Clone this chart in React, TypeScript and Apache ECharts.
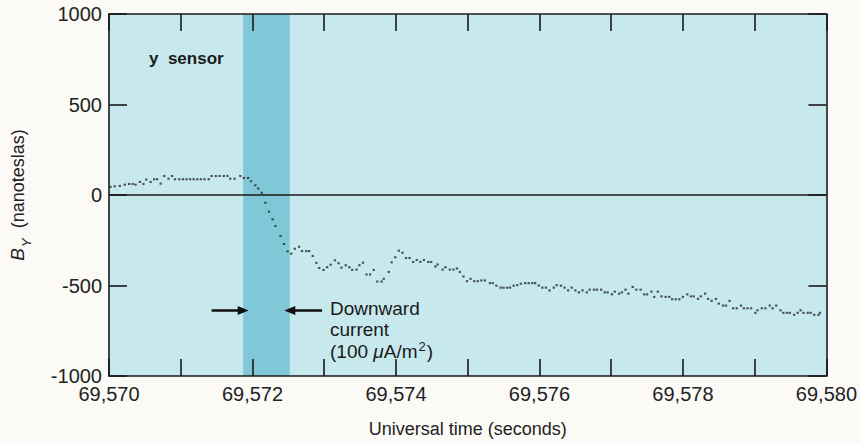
import React, { useEffect, useRef } from "react";
import * as echarts from "echarts";

const BASE_TIME = 69570;
const xTicks = [69570, 69572, 69574, 69576, 69578, 69580];
const yTicks = [-1000, -500, 0, 500, 1000];

// seconds after 69,570 UT
const timeOffsets = [
  0.02, 0.08, 0.15, 0.22, 0.28, 0.33, 0.37, 0.43, 0.48, 0.52, 0.58, 0.63, 0.67, 0.72, 0.77, 0.83, 0.88, 0.92, 0.98,
  1.03, 1.08, 1.13, 1.18, 1.23, 1.28, 1.33, 1.39, 1.43, 1.49, 1.54, 1.6, 1.65, 1.69, 1.75, 1.83, 1.88, 1.94, 1.98,
  2.04, 2.08, 2.13, 2.18, 2.23, 2.28, 2.32, 2.39, 2.44, 2.49, 2.54, 2.59, 2.65, 2.69, 2.75, 2.79, 2.84, 2.89, 2.93, 2.99,
  3.04, 3.09, 3.15, 3.2, 3.24, 3.3, 3.35, 3.39, 3.45, 3.49, 3.54, 3.59, 3.64, 3.69, 3.74, 3.8, 3.83, 3.9, 3.94, 3.99,
  4.04, 4.09, 4.14, 4.19, 4.24, 4.29, 4.34, 4.39, 4.45, 4.49, 4.55, 4.58, 4.65, 4.69, 4.75, 4.8, 4.85, 4.89, 4.94, 4.99,
  5.04, 5.09, 5.14, 5.19, 5.24, 5.31, 5.35, 5.4, 5.46, 5.5, 5.55, 5.59, 5.64, 5.69, 5.74, 5.8, 5.85, 5.9, 5.94, 5.99,
  6.04, 6.09, 6.14, 6.2, 6.24, 6.3, 6.35, 6.4, 6.45, 6.5, 6.55, 6.6, 6.66, 6.7, 6.76, 6.8, 6.86, 6.91, 6.95,
  7.01, 7.05, 7.11, 7.15, 7.2, 7.24, 7.3, 7.35, 7.41, 7.46, 7.5, 7.56, 7.6, 7.65, 7.7, 7.76, 7.81, 7.85, 7.9, 7.95,
  8.0, 8.06, 8.11, 8.15, 8.21, 8.25, 8.31, 8.35, 8.4, 8.46, 8.5, 8.56, 8.6, 8.65, 8.7, 8.75, 8.81, 8.85, 8.9, 8.95,
  9.01, 9.04, 9.1, 9.15, 9.21, 9.25, 9.3, 9.36, 9.4, 9.45, 9.49, 9.55, 9.6, 9.64, 9.68, 9.74, 9.78, 9.83, 9.89, 9.91,
];

// B_Y in nanoteslas
const byValues = [
  45, 48, 50, 57, 61, 61, 57, 72, 61, 85, 72, 87, 87, 63, 105, 90, 105, 87, 87,
  87, 87, 87, 87, 87, 87, 87, 87, 105, 105, 105, 105, 105, 90, 90, 105, 94, 94, 76,
  54, 36, 12, -43, -92, -134, -171, -226, -271, -311, -324, -297, -286, -310, -310, -310, -337, -375, -403, -414,
  -399, -385, -361, -377, -401, -388, -399, -414, -412, -388, -374, -439, -439, -414, -478, -478, -463, -425, -372, -344,
  -308, -319, -348, -348, -370, -359, -370, -359, -370, -370, -395, -384, -412, -399, -412, -412, -406, -425, -450, -476,
  -463, -476, -476, -472, -472, -487, -487, -501, -512, -512, -512, -512, -501, -498, -490, -487, -487, -487, -487, -500,
  -512, -512, -527, -512, -498, -501, -512, -527, -512, -527, -538, -527, -538, -523, -523, -523, -523, -538, -538,
  -549, -534, -545, -538, -523, -545, -508, -523, -523, -549, -549, -534, -563, -534, -560, -563, -563, -576, -576, -576,
  -563, -549, -560, -560, -574, -560, -545, -574, -585, -574, -600, -611, -611, -585, -626, -626, -611, -626, -626, -626,
  -651, -637, -626, -626, -611, -626, -611, -637, -651, -651, -651, -662, -651, -637, -651, -651, -651, -662, -662, -651,
];

const bandStart = 69571.87;
const bandEnd = 69572.52;
const arrowLevel = -638;
const leftArrowFrom = 69571.43;
const rightArrowFrom = 69572.97;

const FONT = "Liberation Sans, Arial, sans-serif";

function fmtTime(v: number): string {
  const s = String(Math.round(v));
  return s.slice(0, s.length - 3) + "," + s.slice(s.length - 3);
}

export default function App() {
  const ref = useRef<HTMLDivElement>(null);
  useEffect(() => {
    if (!ref.current) return;
    const chart = echarts.init(ref.current, undefined, { renderer: "svg" });
    const points = timeOffsets.map((o, i) => [BASE_TIME + o, byValues[i]]);
    const axisLine = { show: true, onZero: false, lineStyle: { color: "#1a1a1a", width: 1.6 } };
    const tickStyle = { color: "#1a1a1a", width: 1.6 };
    const labelSet = new Set(xTicks);
    const ySet = new Set(yTicks);
    chart.setOption({
      animation: false,
      backgroundColor: "#fcfaf7",
      grid: {
        left: 106,
        top: 14,
        right: 27,
        bottom: 64,
        show: true,
        backgroundColor: "#c7e8ed",
        borderWidth: 0,
      },
      xAxis: [
        {
          type: "value",
          min: 69570,
          max: 69580,
          interval: 1,
          z: 10,
          position: "bottom",
          axisLine,
          axisTick: { show: true, inside: true, length: 17, lineStyle: tickStyle },
          splitLine: { show: false },
          axisLabel: {
            color: "#222",
            fontFamily: FONT,
            fontSize: 20,
            margin: 8,
            formatter: (v: number) => (labelSet.has(Math.round(v)) ? fmtTime(v) : ""),
          },
          name: "Universal time (seconds)",
          nameLocation: "middle",
          nameGap: 44,
          nameTextStyle: { color: "#222", fontFamily: FONT, fontSize: 18 },
        },
        {
          type: "value",
          min: 69570,
          max: 69580,
          interval: 1,
          z: 10,
          position: "top",
          axisLine,
          axisTick: { show: true, inside: true, length: 17, lineStyle: tickStyle },
          splitLine: { show: false },
          axisLabel: { show: false },
        },
      ],
      yAxis: [
        {
          type: "value",
          min: -1000,
          max: 1000,
          interval: 500,
          z: 10,
          position: "left",
          axisLine,
          axisTick: { show: true, inside: true, length: 18, lineStyle: tickStyle },
          splitLine: { show: false },
          axisLabel: {
            color: "#222",
            fontFamily: FONT,
            fontSize: 20,
            margin: 7,
            formatter: (v: number) => (ySet.has(v) ? String(v) : ""),
          },
          name: "{b|B}{s|Y}{t|  (nanoteslas)}",
          nameLocation: "middle",
          nameRotate: 90,
          nameGap: 82,
          nameTextStyle: {
            color: "#222",
            fontFamily: FONT,
            rich: {
              b: { fontSize: 19, fontStyle: "italic", fontFamily: FONT, color: "#222", verticalAlign: "bottom", lineHeight: 22 },
              s: { fontSize: 13, fontStyle: "italic", fontFamily: FONT, color: "#222", verticalAlign: "bottom", lineHeight: 14, padding: [0, 0, -6, 1] },
              t: { fontSize: 18, fontFamily: FONT, color: "#222", verticalAlign: "bottom", lineHeight: 22 },
            },
          },
        },
        {
          type: "value",
          min: -1000,
          max: 1000,
          interval: 500,
          z: 10,
          position: "right",
          axisLine,
          axisTick: { show: true, inside: true, length: 18, lineStyle: tickStyle },
          splitLine: { show: false },
          axisLabel: { show: false },
        },
      ],
      series: [
        {
          type: "line",
          data: [],
          z: 1,
          silent: true,
          markArea: {
            silent: true,
            itemStyle: { color: "#80c8d7", opacity: 1 },
            data: [[{ xAxis: bandStart }, { xAxis: bandEnd }]],
          },
        },
        {
          type: "line",
          data: [],
          z: 4,
          silent: true,
          markLine: {
            silent: true,
            symbol: ["none", "none"],
            label: { show: false },
            lineStyle: { color: "#1a1a1a", width: 1.6, type: "solid" },
            data: [{ yAxis: 0 }],
          },
        },
        {
          type: "line",
          data: [],
          z: 6,
          silent: true,
          markLine: {
            silent: true,
            symbol: ["none", "triangle"],
            symbolSize: [9, 11],
            label: { show: false },
            lineStyle: { color: "#111", width: 2.6, type: "solid" },
            data: [
              [{ coord: [leftArrowFrom, arrowLevel] }, { coord: [bandStart, arrowLevel] }],
              [{ coord: [rightArrowFrom, arrowLevel] }, { coord: [bandEnd, arrowLevel] }],
            ],
          },
        },
        {
          type: "scatter",
          data: points,
          z: 5,
          symbol: "rect",
          symbolSize: [2.3, 2.1],
          itemStyle: { color: "#2b2b2b" },
        },
      ],
      graphic: [
        {
          type: "text",
          x: 149,
          y: 58,
          z: 20,
          style: {
            text: "y  sensor",
            fontFamily: FONT,
            fontWeight: "bold",
            fontSize: 17,
            fill: "#1a1a1a",
            verticalAlign: "middle",
          },
        },
        {
          type: "text",
          x: 330,
          y: 298,
          z: 20,
          style: {
            text: "Downward\ncurrent\n{p|(100 }{m|\u03bc}{p|A/m}{sup|2}{p|)}",
            fontFamily: FONT,
            fontSize: 19,
            lineHeight: 21,
            fill: "#1a1a1a",
            rich: {
              p: { fontFamily: FONT, fontSize: 19, fill: "#1a1a1a", lineHeight: 21, verticalAlign: "bottom" },
              m: { fontFamily: FONT, fontSize: 19, fontStyle: "italic", fill: "#1a1a1a", lineHeight: 21, verticalAlign: "bottom" },
              sup: { fontFamily: FONT, fontSize: 13, fill: "#1a1a1a", lineHeight: 13, verticalAlign: "top", padding: [0, 1, 8, 1] },
            },
          },
        },
      ],
    });
    return () => chart.dispose();
  }, []);
  return (
    <div
      ref={ref}
      style={{ position: "fixed", left: 0, top: 0, width: 860, height: 443 }}
    />
  );
}
